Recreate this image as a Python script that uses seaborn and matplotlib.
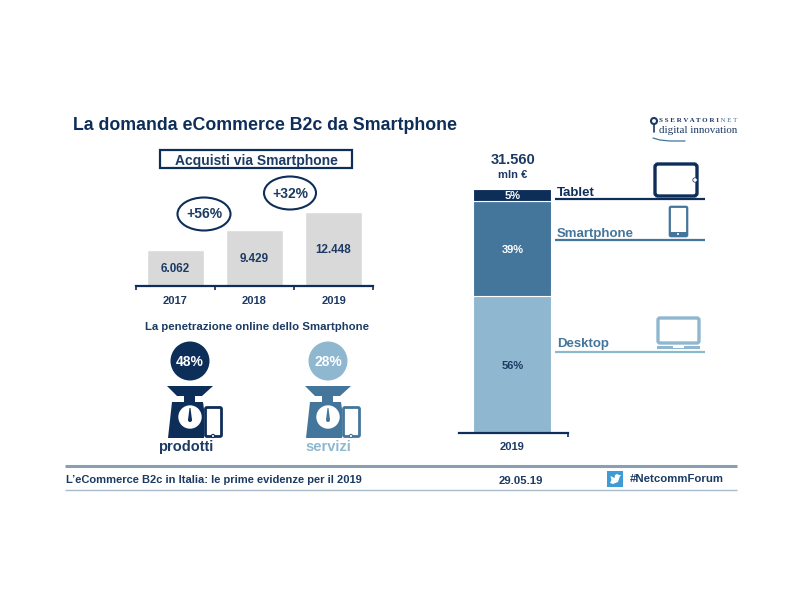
import matplotlib.pyplot as plt
import pandas as pd
import seaborn as sns
from matplotlib.patches import Circle, Ellipse, FancyBboxPatch, Polygon, Rectangle

YEARS = ["2017", "2018", "2019"]
PURCHASES = [6062, 9429, 12448]
PURCHASE_LABELS = ["6.062", "9.429", "12.448"]
GROWTH_LABELS = ["+56%", "+32%"]

DEVICES = ["Desktop", "Smartphone", "Tablet"]
DEVICE_SHARE = [56, 39, 5]
TOTAL_LABEL = "31.560"

PENETRATION_LABELS = ["48%", "28%"]
PENETRATION_NAMES = ["prodotti", "servizi"]

NAVY = "#0e2e5a"
MID = "#44759b"
LIGHT = "#8fb7d0"
GREY = "#d9d9d9"
TEXT = "#1c3a63"
W, H = 800, 600


def px_axes(fig, x0, y0, x1, y1):
    # axes placed with pixel coordinates, y from the top
    return fig.add_axes([x0 / W, 1 - y1 / H, (x1 - x0) / W, (y1 - y0) / H])


def clean_axis(ax):
    sns.despine(ax=ax, left=True)
    ax.set_xlabel("")
    ax.set_ylabel("")
    ax.set_yticks([])
    ax.patch.set_alpha(0)
    ax.spines["bottom"].set_color(NAVY)
    ax.spines["bottom"].set_linewidth(1.6)


def scale_icon(ax, cx, dot_color, color, text_color, pct, name, name_x):
    ax.add_patch(Circle((cx, 361), 19.5, color=dot_color, lw=0))
    ax.text(cx, 362.5, pct, color="white", fontsize=10, fontweight="bold", ha="center", va="center")
    # pan, neck, body
    ax.add_patch(Polygon([(cx - 23, 386), (cx + 23, 386), (cx + 12, 396), (cx + 5, 396), (cx + 5, 402),
                          (cx - 6, 402), (cx - 6, 396), (cx - 13, 396)], color=color, lw=0))
    ax.add_patch(Polygon([(cx - 18, 402), (cx + 13, 402), (cx + 18, 438), (cx - 22, 438)], color=color, lw=0))
    ax.add_patch(Circle((cx, 417), 11.7, color="white", lw=0))
    ax.add_patch(Polygon([(cx - 0.5, 408), (cx + 0.5, 408), (cx + 2, 420), (cx - 2, 420)], color=color, lw=0))
    ax.add_patch(Circle((cx, 420), 2, color=color, lw=0))
    # phone beside the scale
    ax.add_patch(Rectangle((cx + 14, 404), 19, 36, fc="white", ec="white", lw=0))
    ax.add_patch(FancyBboxPatch((cx + 17, 409), 13, 26, boxstyle="round,pad=1.5", fc="white", ec=color, lw=2))
    ax.add_patch(Circle((cx + 23, 436), 1.6, fc="white", ec=color, lw=0.8, zorder=5))
    ax.text(name_x, 447, name, color=text_color, fontsize=10.5, fontweight="bold", ha="center", va="center")


sns.set_theme(style="white")
plt.rcParams["font.family"] = ["Liberation Sans", "DejaVu Sans"]

fig = plt.figure(figsize=(8, 6), dpi=100, facecolor="white")

# purchases bars
ax1 = px_axes(fig, 136, 212, 373, 286)
df1 = pd.DataFrame({"year": YEARS, "value": PURCHASES})
sns.barplot(data=df1, x="year", y="value", color=GREY, saturation=1, width=0.72, ax=ax1)
ax1.set_xlim(-0.5, 2.5)
ax1.set_ylim(0, 12448)
clean_axis(ax1)
ax1.set_xticks([-0.5, 0.5, 1.5, 2.5], labels=[])
ax1.tick_params(axis="x", bottom=True, length=3, width=1.2, color=NAVY, direction="out")
for i, year in enumerate(YEARS):
    ax1.text(i, -1600, year, color=TEXT, fontsize=8, fontweight="bold", ha="center", va="top")
    ax1.text(i, PURCHASES[i] / 2 - 170, PURCHASE_LABELS[i], color=TEXT, fontsize=8.4, fontweight="bold",
             ha="center", va="center")

# device share stacked bar
ax2 = px_axes(fig, 459, 189, 568, 433)
bottom = 0
for name, color, share in zip(DEVICES, [LIGHT, MID, NAVY], DEVICE_SHARE):
    sns.barplot(x=["2019"], y=[share], color=color, saturation=1, width=0.716, bottom=bottom,
                edgecolor="white", linewidth=0.8, ax=ax2)
    label_color = TEXT if name == "Desktop" else "white"
    ax2.text(0, bottom + share / 2 - 0.4, f"{share}%", color=label_color, fontsize=8,
             fontweight="bold", ha="center", va="center")
    bottom += share
ax2.set_xlim(-0.49, 0.51)
ax2.set_ylim(0, 100)
clean_axis(ax2)
ax2.set_xticks([0.51], labels=[])
ax2.tick_params(axis="x", bottom=True, length=3, width=1.2, color=NAVY, direction="out")
ax2.text(0.0, -5.6, "2019", color=TEXT, fontsize=8, fontweight="bold", ha="center", va="center")

# overlay for text, rules and icons
ov = fig.add_axes([0, 0, 1, 1], zorder=5)
ov.set_xlim(0, W)
ov.set_ylim(H, 0)
ov.axis("off")

ov.text(73, 125, "La domanda eCommerce B2c da Smartphone", color=NAVY, fontsize=12.75, fontweight="bold",
        ha="left", va="center")

# subtitle box
ov.add_patch(Rectangle((160, 150), 192, 18, fc="white", ec=NAVY, lw=1.6))
ov.text(256, 160.5, "Acquisti via Smartphone", color=TEXT, fontsize=10, fontweight="bold", ha="center", va="center")

# growth bubbles
for (cx, cy, w), label in zip([(204, 214, 53), (290, 193, 52)], GROWTH_LABELS):
    ov.add_patch(Ellipse((cx, cy), w, 33, fc="white", ec=NAVY, lw=1.5))
    ov.text(cx, cy + 0.5, label, color=TEXT, fontsize=10, fontweight="bold", ha="center", va="center")

ov.text(257, 326.5, "La penetrazione online dello Smartphone", color=TEXT, fontsize=8.2, fontweight="bold",
        ha="center", va="center")

scale_icon(ov, 190, NAVY, NAVY, TEXT, PENETRATION_LABELS[0], PENETRATION_NAMES[0], 186)
scale_icon(ov, 328, LIGHT, MID, LIGHT, PENETRATION_LABELS[1], PENETRATION_NAMES[1], 328)

# total above the stack
ov.text(513, 159.5, TOTAL_LABEL, color=TEXT, fontsize=10.5, fontweight="bold", ha="center", va="center")
ov.text(513, 174.5, "mln €", color=TEXT, fontsize=8, fontweight="bold", ha="center", va="center")

# device rows
for label, y, color, tcolor, ty in [("Tablet", 199, NAVY, NAVY, 193), ("Smartphone", 240, MID, MID, 234),
                                    ("Desktop", 352, LIGHT, MID, 344.5)]:
    ov.plot([555, 705], [y, y], color=color, lw=1.6, solid_capstyle="butt")
    ov.text(557, ty, label, color=tcolor, fontsize=9.5, fontweight="bold", ha="left", va="center")

# tablet icon
ov.add_patch(FancyBboxPatch((658, 167), 36, 26, boxstyle="round,pad=3", fc="white", ec=NAVY, lw=2.4))
ov.add_patch(Circle((695, 180), 2.2, fc="white", ec=NAVY, lw=0.5, zorder=6))
# phone icon
ov.add_patch(FancyBboxPatch((671, 208), 15, 27, boxstyle="round,pad=1.2", fc="white", ec=MID, lw=1.6))
ov.add_patch(Rectangle((670, 232), 17, 4.5, color=MID, lw=0))
ov.add_patch(Circle((678, 234), 1, color="white", lw=0))
# laptop icon
ov.add_patch(FancyBboxPatch((660, 320), 37, 21, boxstyle="round,pad=2", fc="white", ec=LIGHT, lw=2.4))
ov.add_patch(Rectangle((657, 346), 43, 3, color=LIGHT, lw=0))
ov.add_patch(Rectangle((673, 346), 11, 1.5, color="white", lw=0))

# logo
ov.add_patch(Circle((654, 121), 3, fc="white", ec=TEXT, lw=1.5))
ov.plot([654, 654], [124, 132], color=TEXT, lw=1.2)
ov.text(659, 121, "S S E R V A T O R I", color=TEXT, fontsize=5, fontweight="bold", ha="left", va="center",
        family="Liberation Serif")
ov.text(717, 121, ". N E T", color=MID, fontsize=5, ha="left", va="center", family="Liberation Serif")
ov.text(659, 130.5, "digital innovation", color=TEXT, fontsize=7.9, ha="left", va="center",
        family="Liberation Serif")
ov.plot([653, 660, 670, 685], [138, 140, 141, 141], color=MID, lw=0.9)

# footer
ov.plot([65, 737], [466, 466], color="#8a9fb3", lw=2.2, solid_capstyle="butt")
ov.plot([65, 737], [490, 490], color="#a9bccb", lw=1, solid_capstyle="butt")
ov.text(66, 480, "L’eCommerce B2c in Italia: le prime evidenze per il 2019", color=TEXT, fontsize=8,
        fontweight="bold", ha="left", va="center")
ov.text(521, 480.5, "29.05.19", color=TEXT, fontsize=8.2, fontweight="bold", ha="center", va="center")
ov.add_patch(Rectangle((607, 471), 16, 16, color="#3f9bd3", lw=0))
ov.add_patch(Polygon([(610, 483), (613, 484), (618, 482), (620, 476), (621.5, 475), (619, 475), (617, 474),
                      (615, 475), (614.5, 478), (610.5, 476), (611.5, 480)], color="white", lw=0))
ov.text(630, 479.5, "#NetcommForum", color=TEXT, fontsize=8.2, fontweight="bold", ha="left", va="center")

fig.savefig("out.png", dpi=100)
